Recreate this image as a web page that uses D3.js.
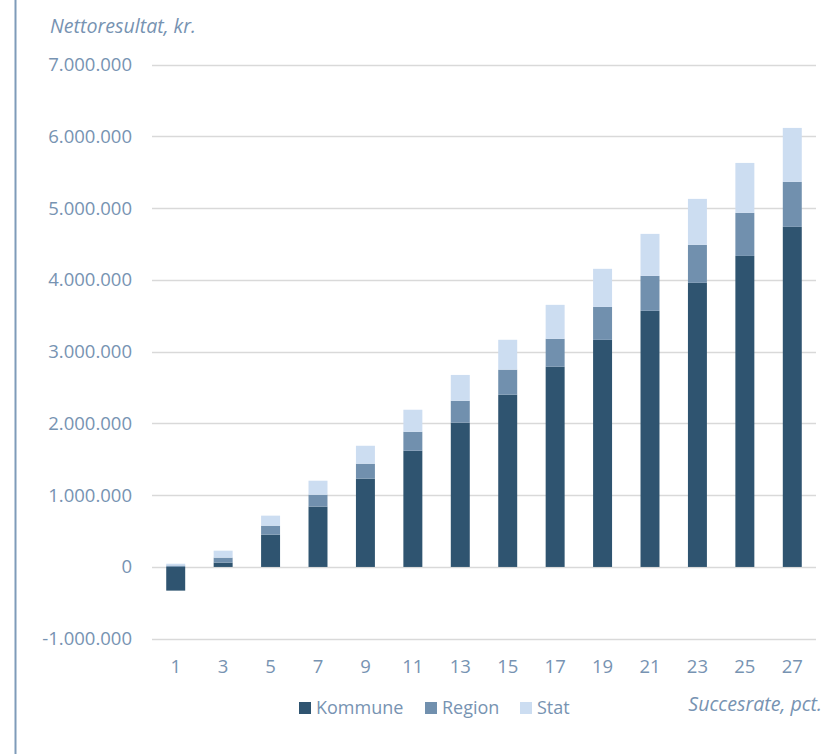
<!DOCTYPE html>
<html lang="da">
<head>
    <meta charset="utf-8">
    <title>Nettoresultat</title>
    <script src="https://d3js.org/d3.v7.min.js" charset="utf-8"></script>
    <style type="text/css">
        body { margin: 0; background: white; }
        text { font-family: "Open Sans", sans-serif; fill: #7793b2; }
        .axis-title { font-style: italic; font-size: 19.6px; }
        .tick-label { font-size: 18.5px; }
        .legend-label { font-size: 18px; }
    </style>
</head>
<body>
    <div id="main"></div>
    <script type="text/javascript">
        // data
        var rates = ["1", "3", "5", "7", "9", "11", "13", "15", "17", "19", "21", "23", "25", "27"];
        var kommune = [-330000, 60000, 450000, 840000, 1230000, 1620000, 2010000, 2400000, 2790000, 3165000, 3570000, 3960000, 4335000, 4740000];
        var region = [20000, 70000, 125000, 167000, 209000, 264000, 306000, 350000, 390000, 460000, 487000, 529000, 600000, 627000];
        var stat = [25000, 97000, 140000, 195000, 250000, 307000, 360000, 416000, 473000, 530000, 585000, 641000, 696000, 752000];
        var seriesNames = ["Kommune", "Region", "Stat"];
        var yTicks = [-1000000, 0, 1000000, 2000000, 3000000, 4000000, 5000000, 6000000, 7000000];

        var colors = ["#2f5470", "#7190ae", "#ccddf1"];

        var width = 831, height = 754;

        var svg = d3.select("div#main")
            .append("svg")
            .attr("width", width)
            .attr("height", height);

        var rows = rates.map(function(r, i) {
            return {rate: r, Kommune: kommune[i], Region: region[i], Stat: stat[i]};
        });

        var stacked = d3.stack()
            .keys(seriesNames)
            .offset(d3.stackOffsetDiverging)(rows);

        var x = d3.scaleBand()
            .domain(rates)
            .range([152, 816])
            .paddingInner(0.6)
            .paddingOuter(0.3);

        var y = d3.scaleLinear()
            .domain([-1000000, 7000000])
            .range([638.7, 64.7]);

        var da = d3.formatLocale({decimal: ",", thousands: ".", grouping: [3], currency: ["", " kr."], minus: "-"});
        var fmt = da.format(",d");

        // left frame line
        svg.append("line")
            .attr("x1", 15.5).attr("x2", 15.5)
            .attr("y1", 0).attr("y2", height)
            .attr("stroke", "#7f9bb9")
            .attr("stroke-width", 2);

        // gridlines
        svg.append("g").selectAll("line")
            .data(yTicks)
            .enter()
            .append("line")
            .attr("x1", 152).attr("x2", 816)
            .attr("y1", function(d){ return Math.round(y(d)) + 0.5 })
            .attr("y2", function(d){ return Math.round(y(d)) + 0.5 })
            .attr("stroke", "#d9d9d9")
            .attr("stroke-width", 1.6);

        // y labels
        svg.append("g").selectAll("text")
            .data(yTicks)
            .enter()
            .append("text")
            .attr("class", "tick-label")
            .attr("x", 132)
            .attr("y", function(d){ return y(d) })
            .attr("dy", "0.35em")
            .attr("text-anchor", "end")
            .text(function(d){ return fmt(d) });

        // bars
        svg.append("g").selectAll("g")
            .data(stacked)
            .enter()
            .append("g")
            .attr("fill", function(d, i){ return colors[i] })
            .selectAll("rect")
            .data(function(d){ return d })
            .enter()
            .append("rect")
            .attr("x", function(d){ return x(d.data.rate) })
            .attr("width", x.bandwidth())
            .attr("y", function(d){ return y(Math.max(d[0], d[1])) })
            .attr("height", function(d){ return Math.abs(y(d[0]) - y(d[1])) });

        // x labels
        svg.append("g").selectAll("text")
            .data(rates)
            .enter()
            .append("text")
            .attr("class", "tick-label")
            .attr("x", function(d){ return x(d) + x.bandwidth() / 2 })
            .attr("y", 667)
            .attr("dy", "0.35em")
            .attr("text-anchor", "middle")
            .text(function(d){ return d });

        // axis titles
        svg.append("text")
            .attr("class", "axis-title")
            .attr("x", 50)
            .attr("y", 33)
            .text("Nettoresultat, kr.");

        svg.append("text")
            .attr("class", "axis-title")
            .attr("x", 822)
            .attr("y", 711)
            .attr("text-anchor", "end")
            .text("Succesrate, pct.");

        // legend
        var legendX = [299, 425, 520];
        var legend = svg.append("g").selectAll("g")
            .data(seriesNames)
            .enter()
            .append("g")
            .attr("transform", function(d, i){ return "translate(" + legendX[i] + ",702)" });

        legend.append("rect")
            .attr("width", 12)
            .attr("height", 12)
            .attr("fill", function(d, i){ return colors[i] });

        legend.append("text")
            .attr("class", "legend-label")
            .attr("x", 17)
            .attr("y", 6)
            .attr("dy", "0.35em")
            .text(function(d){ return d });
    </script>
</body>
</html>
